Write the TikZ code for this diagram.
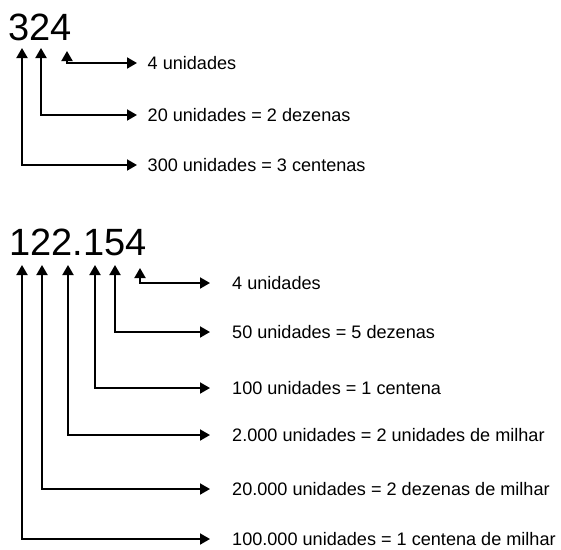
\documentclass[tikz,border=0pt]{standalone}
\usepackage{fontspec}
\setmainfont{Liberation Sans}
\usetikzlibrary{arrows.meta}

\begin{document}
\begin{tikzpicture}[x=1pt, y=-1pt,
		big/.style={inner sep=0pt, anchor=base west, font=\fontsize{38}{40}\selectfont},
		lbl/.style={inner ysep=0pt, anchor=west, font=\fontsize{18.1}{20}\selectfont},
		conn/.style={line width=1.9pt, {Triangle[length=10pt,width=11pt]}-{Triangle[length=10pt,width=11pt]}}]
		%%%%% START %%%%%
		\useasboundingbox (0, 0) rectangle (561, 549);
		
		% 324
		\node[big] (num1) at (8.5, 40) {324};
		\coordinate (c1a) at (22, 48);
		\coordinate (c1b) at (41, 48);
		\coordinate (c1c) at (67, 51);
		
		\node[lbl, inner xsep=10.5pt] (t1c) at (137, 63) {4 unidades};
		\node[lbl, inner xsep=10.5pt] (t1b) at (137, 115) {20 unidades = 2 dezenas};
		\node[lbl, inner xsep=10.5pt] (t1a) at (137, 165) {300 unidades = 3 centenas};
		
		\draw[conn] (c1c) |- (t1c.west);
		\draw[conn] (c1b) |- (t1b.west);
		\draw[conn] (c1a) |- (t1a.west);
		
		% 122.154
		\node[big] (num2) at (9, 255) {122.154};
		\coordinate (c2a) at (22, 265);
		\coordinate (c2b) at (42, 265);
		\coordinate (c2c) at (68, 265);
		\coordinate (c2d) at (95, 265);
		\coordinate (c2e) at (115, 265);
		\coordinate (c2f) at (140, 268);
		
		\node[lbl, inner xsep=22pt] (t2f) at (210, 283) {4 unidades};
		\node[lbl, inner xsep=22pt] (t2e) at (210, 332) {50 unidades = 5 dezenas};
		\node[lbl, inner xsep=22pt] (t2d) at (210, 388) {100 unidades = 1 centena};
		\node[lbl, inner xsep=22pt] (t2c) at (210, 435) {2.000 unidades = 2 unidades de milhar};
		\node[lbl, inner xsep=22pt] (t2b) at (210, 489) {20.000 unidades = 2 dezenas de milhar};
		\node[lbl, inner xsep=22pt] (t2a) at (210, 539) {100.000 unidades = 1 centena de milhar};
		
		\draw[conn] (c2f) |- (t2f.west);
		\draw[conn] (c2e) |- (t2e.west);
		\draw[conn] (c2d) |- (t2d.west);
		\draw[conn] (c2c) |- (t2c.west);
		\draw[conn] (c2b) |- (t2b.west);
		\draw[conn] (c2a) |- (t2a.west);
		%%%%% END %%%%%
	\end{tikzpicture}
\end{document}
